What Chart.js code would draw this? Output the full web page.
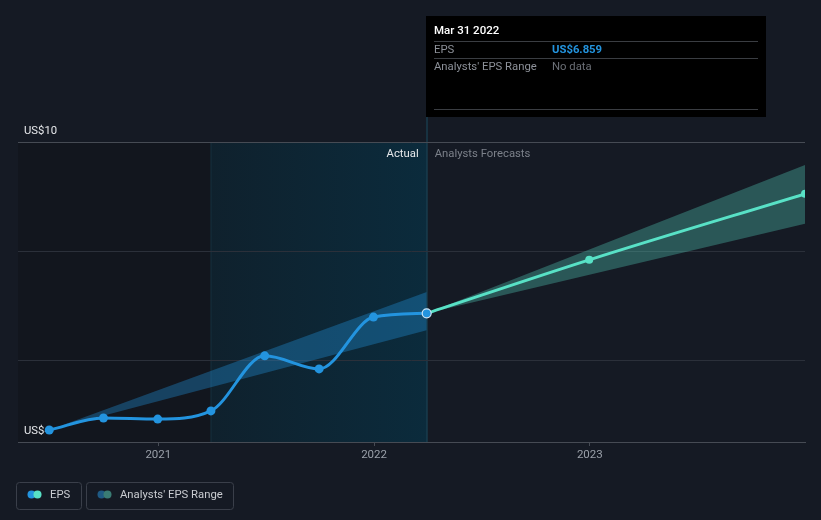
<!DOCTYPE html>
<html>
<head>
<meta charset="utf-8">
<script src="https://cdn.jsdelivr.net/npm/chart.js@4.4.0/dist/chart.umd.min.js"></script>
<style>
  html, body { margin: 0; padding: 0; background: #151a24; }
  #wrap { width: 821px; height: 520px; position: relative; }
</style>
</head>
<body>
<div id="wrap"><canvas id="c" width="821" height="520"></canvas></div>
<script>
// ---- data ----
const actualDates = ['2020-06-30','2020-09-30','2020-12-31','2021-03-31','2021-06-30','2021-09-30','2021-12-31','2022-03-31'];
const epsActual   = [4.72, 4.94, 4.92, 5.07, 6.08, 5.84, 6.79, 6.859];
const forecastDates = ['2022-03-31','2022-12-31','2023-12-31'];
const epsForecast   = [6.859, 7.84, 9.05];
const pastRangeDates = ['2020-06-30','2022-03-31'];
const pastRangeHigh  = [4.72, 7.25];
const pastRangeLow   = [4.72, 6.55];
const fcRangeDates = ['2022-03-31','2023-12-31'];
const fcRangeHigh  = [6.859, 9.58];
const fcRangeLow   = [6.859, 8.50];
const xTickYears = [2021, 2022, 2023];
const yGridValues = [6, 8, 10];
const yMin = 4.5, yMax = 10;
const yLabels = [{v: 10, t: 'US$10'}, {v: 4.5, t: 'US$4'}];
const xMinDate = '2020-05-08', xMaxDate = '2023-12-31';
const actualStart = '2021-03-31', todayDate = '2022-03-31';
const tooltipTitle = 'Mar 31 2022';
const tooltipRows = [['EPS', 'US$6.859'], ["Analysts' EPS Range", 'No data']];

function toYear(s) {
  const d = Date.parse(s + 'T00:00:00Z');
  const y = new Date(d).getUTCFullYear();
  const a = Date.UTC(y, 0, 1), b = Date.UTC(y + 1, 0, 1);
  return y + (d - a) / (b - a);
}
const pts = (ds, vs) => ds.map((d, i) => ({x: toYear(d), y: vs[i]}));

const FONT = 'Roboto, "Open Sans", sans-serif';
const FS = '11.3px ';

const overlay = {
  id: 'overlay',
  beforeDraw(chart) {
    const {ctx, chartArea: a, scales: {x}} = chart;
    ctx.save();
    ctx.fillStyle = '#151a24';
    ctx.fillRect(0, 0, chart.width, chart.height);
    const xs = x.getPixelForValue(toYear(actualStart));
    const xt = x.getPixelForValue(toYear(todayDate));
    ctx.fillStyle = '#12161e';
    ctx.fillRect(a.left, a.top, xs - a.left, a.bottom - a.top);
    const g = ctx.createLinearGradient(xs, 0, xt, 0);
    g.addColorStop(0, '#0f212d');
    g.addColorStop(1, '#0b2b3c');
    ctx.fillStyle = g;
    ctx.fillRect(xs, a.top, xt - xs, a.bottom - a.top);
    ctx.fillStyle = '#16303e';
    ctx.fillRect(Math.round(xs) - 0.5, a.top, 1, a.bottom - a.top);
    ctx.fillStyle = '#1b4a5e';
    ctx.fillRect(Math.round(xt) - 0.5, 16, 1, a.bottom - 16);
    ctx.restore();
  },
  beforeDatasetsDraw(chart) {
    const {ctx, chartArea: a, scales: {x, y}} = chart;
    ctx.save();
    ctx.font = FS + FONT;
    ctx.textBaseline = 'middle';
    ctx.fillStyle = '#e6e8eb';
    ctx.textAlign = 'left';
    yLabels.forEach(l => ctx.fillText(l.t, 24, y.getPixelForValue(l.v) - 11));
    const xt = x.getPixelForValue(toYear(todayDate));
    ctx.textAlign = 'right';
    ctx.fillStyle = '#e6e8eb';
    ctx.fillText('Actual', xt - 8, a.top + 12.5);
    ctx.textAlign = 'left';
    ctx.fillStyle = '#7c818a';
    ctx.fillText('Analysts Forecasts', xt + 8, a.top + 12.5);
    ctx.restore();
  },
  afterDraw(chart) {
    const {ctx, scales: {x}} = chart;
    const xt = x.getPixelForValue(toYear(todayDate));
    ctx.save();
    // tooltip
    const bx = Math.round(xt) - 1, by = 16, bw = 340, bh = 101;
    ctx.fillStyle = '#000000';
    ctx.fillRect(bx, by, bw, bh);
    ctx.font = '500 11.5px ' + FONT;
    ctx.textBaseline = 'middle';
    ctx.fillStyle = '#ffffff';
    ctx.fillText(tooltipTitle, bx + 8, 31.5);
    ctx.fillStyle = '#3a3d42';
    [41, 58, 109].forEach(yy => ctx.fillRect(bx + 8, yy, bw - 16, 1));
    ctx.font = FS + FONT;
    ctx.fillStyle = '#8d9199';
    ctx.fillText(tooltipRows[0][0], bx + 8, 50);
    ctx.fillText(tooltipRows[1][0], bx + 8, 67);
    ctx.font = 'bold ' + FS + FONT;
    ctx.fillStyle = '#2394df';
    ctx.fillText(tooltipRows[0][1], bx + 126, 50);
    ctx.font = FS + FONT;
    ctx.fillStyle = '#6b6f76';
    ctx.fillText(tooltipRows[1][1], bx + 126, 67);
    // legend
    function rr(x0, y0, w, h, r) {
      ctx.beginPath();
      ctx.moveTo(x0 + r, y0); ctx.lineTo(x0 + w - r, y0); ctx.arcTo(x0 + w, y0, x0 + w, y0 + r, r);
      ctx.lineTo(x0 + w, y0 + h - r); ctx.arcTo(x0 + w, y0 + h, x0 + w - r, y0 + h, r);
      ctx.lineTo(x0 + r, y0 + h); ctx.arcTo(x0, y0 + h, x0, y0 + h - r, r);
      ctx.lineTo(x0, y0 + r); ctx.arcTo(x0, y0, x0 + r, y0, r); ctx.closePath();
    }
    ctx.strokeStyle = '#3a3f4a';
    ctx.lineWidth = 1;
    rr(16.5, 482.5, 65, 27, 3); ctx.stroke();
    rr(86.5, 482.5, 147, 27, 3); ctx.stroke();
    function dot(cx, c) { ctx.beginPath(); ctx.arc(cx, 494.5, 4, 0, Math.PI * 2); ctx.fillStyle = c; ctx.fill(); }
    dot(31.5, '#2394df'); dot(37.5, '#58e1c6');
    dot(101.5, '#1f5a84'); dot(107.5, '#3a7c74');
    ctx.font = FS + FONT;
    ctx.fillStyle = '#c9ccd1';
    ctx.fillText('EPS', 50, 495);
    ctx.fillText("Analysts' EPS Range", 120, 495);
    ctx.restore();
  }
};

const n = actualDates.length;
new Chart(document.getElementById('c'), {
  type: 'line',
  data: {
    datasets: [
      { data: pts(actualDates, epsActual), borderColor: '#2394df', borderWidth: 3,
        pointRadius: 4.5, pointHoverRadius: 4.5, pointBackgroundColor: '#2394df',
        pointBorderColor: actualDates.map((d, i) => i === n - 1 ? '#cfe6f7' : '#2394df'),
        pointBorderWidth: actualDates.map((d, i) => i === n - 1 ? 1.2 : 0),
        cubicInterpolationMode: 'monotone', fill: false, order: 1 },
      { data: pts(forecastDates, epsForecast), borderColor: '#58e1c6', borderWidth: 3,
        pointRadius: 4, pointBackgroundColor: '#58e1c6', pointBorderWidth: 0,
        cubicInterpolationMode: 'monotone', fill: false, order: 2 },
      { data: pts(pastRangeDates, pastRangeHigh), borderWidth: 0, pointRadius: 0,
        backgroundColor: 'rgba(35,148,223,0.35)', fill: '+1', order: 3 },
      { data: pts(pastRangeDates, pastRangeLow), borderWidth: 0, pointRadius: 0, fill: false, order: 4 },
      { data: pts(fcRangeDates, fcRangeHigh), borderWidth: 0, pointRadius: 0,
        backgroundColor: 'rgba(88,218,196,0.32)', fill: '+1', order: 3 },
      { data: pts(fcRangeDates, fcRangeLow), borderWidth: 0, pointRadius: 0, fill: false, order: 4 }
    ]
  },
  options: {
    responsive: false,
    animation: false,
    events: [],
    layout: { padding: { left: 18, right: 16, top: 142, bottom: 0 } },
    plugins: { legend: { display: false }, tooltip: { enabled: false } },
    scales: {
      x: {
        type: 'linear', min: toYear(xMinDate), max: toYear(xMaxDate),
        afterBuildTicks: s => { s.ticks = xTickYears.map(v => ({value: v})); },
        afterFit: s => { s.height = 78; },
        ticks: { color: '#9aa0a9', font: { family: FONT, size: 11.5 }, padding: 2,
                 callback: v => String(v), maxRotation: 0 },
        grid: { drawOnChartArea: false, drawTicks: true, tickLength: 4, color: '#464b54' },
        border: { display: true, color: '#464b54' }
      },
      y: {
        min: yMin, max: yMax,
        afterBuildTicks: s => { s.ticks = yGridValues.map(v => ({value: v})); },
        afterFit: s => { s.width = 0; },
        ticks: { display: false },
        grid: { drawTicks: false, color: c => (c.tick && c.tick.value === yMax) ? '#464b54' : '#2b303a' },
        border: { display: false }
      }
    }
  },
  plugins: [overlay]
});
</script>
</body>
</html>
